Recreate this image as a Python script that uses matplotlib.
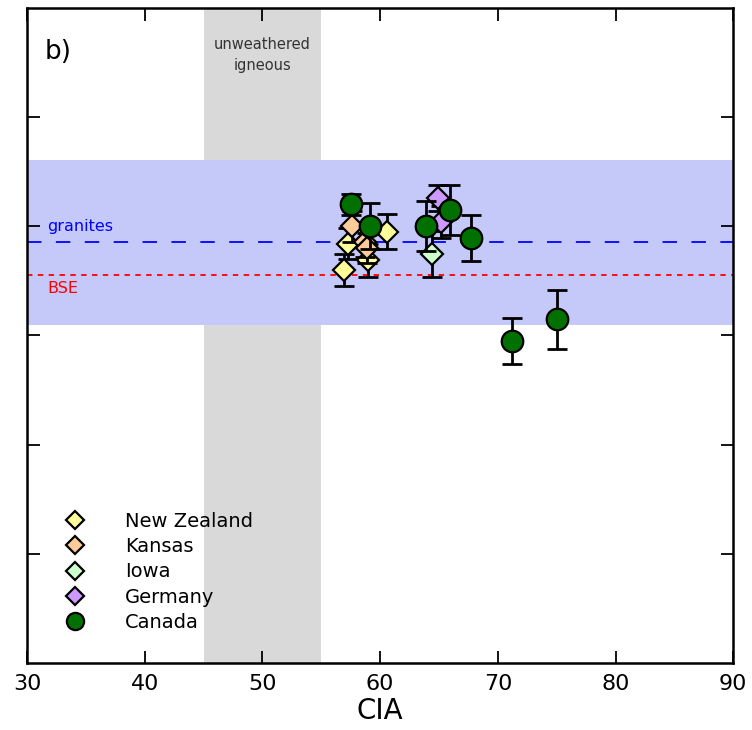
import matplotlib
matplotlib.use("Agg")
import matplotlib.pyplot as plt

# Data (y in arbitrary units; ticks unlabeled)
nz_x = [57.3, 60.6, 59.0, 56.9]
nz_y = [3.84, 3.95, 3.69, 3.60]
nz_e = [0.14, 0.16, 0.15, 0.15]

ks_x = [57.6, 58.7, 58.9]
ks_y = [4.00, 3.86, 3.80]
ks_e = [0.14, 0.14, 0.14]

ia_x = [64.4]
ia_y = [3.75]
ia_e = [0.21]

de_x = [64.95, 65.2]
de_y = [4.26, 4.04]
de_e = [0.12, 0.15]

ca_x = [57.5, 59.1, 63.9, 65.9, 67.7, 71.2, 75.0]
ca_y = [4.20, 4.00, 4.00, 4.15, 3.89, 2.95, 3.15]
ca_e = [0.10, 0.21, 0.23, 0.23, 0.21, 0.21, 0.27]

granite_y = 3.86
bse_y = 3.55
band_lo, band_hi = 3.10, 4.61
igneous_lo, igneous_hi = 45, 55

fig = plt.figure(figsize=(7.52, 7.30), dpi=100)
ax = fig.add_axes([0.036, 0.092, 0.939, 0.897])

ax.axvspan(igneous_lo, igneous_hi, color="#d9d9d9", lw=0, zorder=0)
ax.axhspan(band_lo, band_hi, color="#c5c9fa", lw=0, zorder=0.5)
ax.axhline(granite_y, color="blue", lw=1.3, dashes=(8, 8), zorder=1)
ax.axhline(bse_y, color="red", lw=1.3, dashes=(3, 3), zorder=1)

def series(x, y, e, marker, color, ms, label, z):
    ax.errorbar(x, y, yerr=e, fmt="none", ecolor="black", elinewidth=2.0,
                capsize=7, capthick=2.0, zorder=z)
    ax.plot(x, y, linestyle="none", marker=marker, ms=ms, mfc=color,
            mec="black", mew=1.6, zorder=z + 0.1, label=label)

series(nz_x, nz_y, nz_e, "D", "#ffff99", 11.5, "New Zealand", 2)
series(ks_x, ks_y, ks_e, "D", "#ffcc99", 11.5, "Kansas", 3)
series(ia_x, ia_y, ia_e, "D", "#ccffcc", 11.5, "Iowa", 4)
series(de_x, de_y, de_e, "D", "#cc99ff", 11.5, "Germany", 5)
series(ca_x, ca_y, ca_e, "o", "#007000", 15.5, "Canada", 6)

ax.set_xlim(30, 90)
ax.set_ylim(0, 6)
ax.set_xticks([30, 40, 50, 60, 70, 80, 90])
ax.set_yticks([1, 2, 3, 4, 5])
ax.set_yticklabels([])
ax.tick_params(direction="in", length=9, width=1.3, top=True, right=True,
               labelsize=16, pad=8)
for s in ax.spines.values():
    s.set_linewidth(1.8)
ax.set_xlabel("CIA", fontsize=20, labelpad=2)

ax.text(31.5, 5.6, "b)", fontsize=19, ha="left", va="center")
ax.text(50, 5.57, "unweathered\nigneous", fontsize=10.5, ha="center",
        va="center", color="#333333", linespacing=1.5)
ax.text(31.7, 4.0, "granites", color="blue", fontsize=11.5, ha="left", va="center")
ax.text(31.7, 3.43, "BSE", color="red", fontsize=11.5, ha="left", va="center")

handles, labels = ax.get_legend_handles_labels()
leg = ax.legend(handles, labels, loc="lower left", bbox_to_anchor=(0.015, 0.02),
                frameon=False, fontsize=14, handletextpad=1.6,
                labelspacing=0.33, markerscale=0.8)

fig.savefig("out.png", dpi=100)
